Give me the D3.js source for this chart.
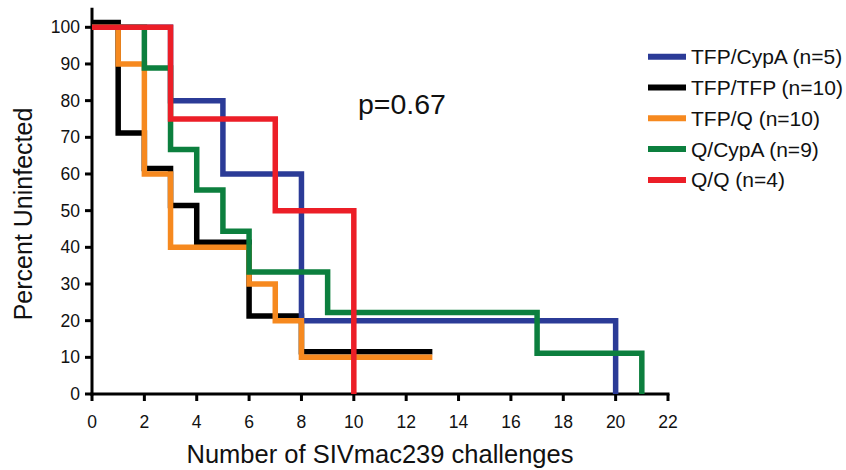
<!DOCTYPE html>
<html>
<head>
<meta charset="utf-8">
<script src="https://cdn.jsdelivr.net/npm/d3@7"></script>
<style>
  body { margin: 0; background: #fff; }
  svg { display: block; font-family: "Liberation Sans", Arial, sans-serif; }
</style>
</head>
<body>
<svg width="846" height="470"></svg>
<script>
// Kaplan-Meier style curves, one array of step times + one of percents per group
const groups = ["TFP/CypA (n=5)", "TFP/TFP (n=10)", "TFP/Q (n=10)", "Q/CypA (n=9)", "Q/Q (n=4)"];
const colors = ["#2b3b97", "#000000", "#f6891f", "#0c7f3e", "#ec1e27"];

const cypaTimes = [0, 3, 5, 8, 20];
const cypaPct = [100, 80, 60, 20, 0];
const tfpTimes = [0, 1, 2, 3, 4, 6, 8, 13];
const tfpPct = [101.3, 71.2, 61.5, 51.4, 41.4, 21.3, 11.5, 11.5];
const tfpqTimes = [0, 1, 2, 3, 6, 7, 8, 13];
const tfpqPct = [100, 90, 60, 40, 30, 20, 10, 10];
const qcypaTimes = [0, 2, 3, 4, 5, 6, 9, 17, 21];
const qcypaPct = [100, 88.9, 66.7, 55.6, 44.4, 33.3, 22.2, 11.1, 0];
const qqTimes = [0, 3, 7, 10];
const qqPct = [100, 75, 50, 0];

const xTicks = d3.range(0, 23, 2);
const yTicks = d3.range(0, 101, 10);
const pLabel = "p=0.67";

const series = [
  {times: cypaTimes, pct: cypaPct},
  {times: tfpTimes, pct: tfpPct},
  {times: tfpqTimes, pct: tfpqPct},
  {times: qcypaTimes, pct: qcypaPct},
  {times: qqTimes, pct: qqPct},
];
// draw order: black under, red on top
const drawOrder = [1, 0, 2, 3, 4];

const svg = d3.select("svg");
const x = d3.scaleLinear().domain([0, 22]).range([92, 668]);
const y = d3.scaleLinear().domain([0, 100]).range([394, 27.3]);

// axes
const axisG = svg.append("g");
axisG.append("line")
  .attr("x1", x(0)).attr("x2", x(0))
  .attr("y1", y(0) + 1.5).attr("y2", y(105.3))
  .attr("stroke", "#000").attr("stroke-width", 3);
axisG.append("line")
  .attr("x1", x(0) - 1.5).attr("x2", x(22) + 1.5)
  .attr("y1", y(0)).attr("y2", y(0))
  .attr("stroke", "#000").attr("stroke-width", 3);

axisG.selectAll(".yt").data(yTicks).enter().append("line")
  .attr("x1", x(0) - 7).attr("x2", x(0))
  .attr("y1", d => y(d)).attr("y2", d => y(d))
  .attr("stroke", "#000").attr("stroke-width", 3);
axisG.selectAll(".ytl").data(yTicks).enter().append("text")
  .attr("x", 80).attr("y", d => y(d))
  .attr("dy", "0.35em")
  .attr("text-anchor", "end")
  .attr("font-size", "17.5px")
  .attr("fill", "#111")
  .text(d => d);

axisG.selectAll(".xt").data(xTicks).enter().append("line")
  .attr("x1", d => x(d)).attr("x2", d => x(d))
  .attr("y1", y(0)).attr("y2", y(0) + 7)
  .attr("stroke", "#000").attr("stroke-width", 3);
axisG.selectAll(".xtl").data(xTicks).enter().append("text")
  .attr("x", d => x(d)).attr("y", 428)
  .attr("text-anchor", "middle")
  .attr("font-size", "17.5px")
  .attr("fill", "#111")
  .text(d => d);

// axis titles
svg.append("text")
  .attr("transform", "translate(32, 214) rotate(-90)")
  .attr("text-anchor", "middle")
  .attr("font-size", "25px")
  .attr("fill", "#111")
  .text("Percent Uninfected");
svg.append("text")
  .attr("x", 380).attr("y", 463)
  .attr("text-anchor", "middle")
  .attr("font-size", "25.5px")
  .attr("fill", "#111")
  .text("Number of SIVmac239 challenges");

// step curves
const line = d3.line()
  .curve(d3.curveStepAfter)
  .x(d => x(d[0]))
  .y(d => y(d[1]));

svg.append("g")
  .selectAll("path")
  .data(drawOrder)
  .enter()
  .append("path")
  .attr("d", i => line(series[i].times.map((t, k) => [t, series[i].pct[k]])))
  .attr("fill", "none")
  .attr("stroke", i => colors[i])
  .attr("stroke-width", 5.5)
  .attr("stroke-linejoin", "miter");

// p value
svg.append("text")
  .attr("x", 358).attr("y", 113.5)
  .attr("font-size", "28.5px")
  .attr("fill", "#111")
  .text(pLabel);

// legend
const legend = svg.append("g")
  .selectAll("g")
  .data(groups)
  .enter()
  .append("g")
  .attr("transform", (d, i) => `translate(648, ${56.7 + i * 30.8})`);
legend.append("line")
  .attr("x1", 0).attr("x2", 38)
  .attr("stroke", (d, i) => colors[i])
  .attr("stroke-width", 6);
legend.append("text")
  .attr("x", 43)
  .attr("dy", "0.36em")
  .attr("font-size", "21px")
  .attr("fill", "#111")
  .text(d => d);
</script>
</body>
</html>
